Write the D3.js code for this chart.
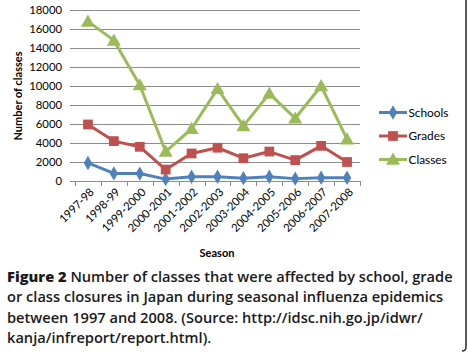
<!DOCTYPE html>
<html lang="en">
<head>
    <meta charset="UTF-8">
    <title>Class closures in Japan</title>
    <script type="text/javascript" src="https://d3js.org/d3.v7.min.js"></script>
    <style>
        body { margin: 0; background: #fff; }
        svg { display: block; }
    </style>
</head>
<body>
    <svg width="468" height="352"></svg>
    <script>
        // data
        var seasons = ["1997-98", "1998-99", "1999-2000", "2000-2001", "2001-2002", "2002-2003",
                       "2003-2004", "2004-2005", "2005-2006", "2006-2007", "2007-2008"];
        var schools = [1900, 800, 780, 200, 450, 450, 300, 450, 250, 350, 350];
        var grades  = [5950, 4200, 3600, 1200, 2900, 3500, 2400, 3100, 2200, 3700, 2000];
        var classes = [16800, 14800, 10100, 3100, 5500, 9700, 5800, 9200, 6600, 10000, 4400];
        var yTicks = [0, 2000, 4000, 6000, 8000, 10000, 12000, 14000, 16000, 18000];

        // dy: the triangle is drawn around its centroid, nudge it so its box is centred
        var series = [
            {name: "Schools", values: schools, color: "#4f81bd", marker: d3.symbolDiamond, size: 60, dy: 0},
            {name: "Grades",  values: grades,  color: "#c0504d", marker: d3.symbolSquare,  size: 95, dy: 0},
            {name: "Classes", values: classes, color: "#9bbb59", marker: d3.symbolTriangle, size: 85, dy: 1.2}
        ];

        var svg = d3.select("svg");
        var font = "Lato, 'Open Sans', sans-serif";

        var x = d3.scaleBand().domain(seasons).range([75, 360]).padding(0);
        var y = d3.scaleLinear().domain([0, 18000]).range([181, 10]);
        var cx = function (i) { return x(seasons[i]) + x.bandwidth() / 2; };

        // gridlines + y labels
        var yAxis = svg.append("g");
        yAxis.selectAll("line")
            .data(yTicks)
            .enter()
            .append("line")
            .attr("x1", 70).attr("x2", 360)
            .attr("y1", d => Math.round(y(d)) + 0.5)
            .attr("y2", d => Math.round(y(d)) + 0.5)
            .attr("stroke", "#8c8c8c")
            .attr("stroke-width", 1);
        yAxis.selectAll("text")
            .data(yTicks)
            .enter()
            .append("text")
            .attr("x", 62)
            .attr("y", d => y(d))
            .attr("dy", "0.36em")
            .attr("text-anchor", "end")
            .style("font-family", font)
            .style("font-size", "11.3px")
            .attr("fill", "#000")
            .text(d => d);

        // x axis ticks at category boundaries
        var bounds = seasons.map(s => x(s)).concat([360]);
        svg.append("g").selectAll("line")
            .data(bounds)
            .enter()
            .append("line")
            .attr("x1", d => Math.round(d) + 0.5).attr("x2", d => Math.round(d) + 0.5)
            .attr("y1", 181).attr("y2", 186)
            .attr("stroke", "#8c8c8c");

        svg.append("g").selectAll("text")
            .data(seasons)
            .enter()
            .append("text")
            .attr("transform", (d, i) => "translate(" + (cx(i) + 4) + ",190) rotate(-45)")
            .attr("text-anchor", "end")
            .attr("dy", "0.35em")
            .style("font-family", font)
            .style("font-size", "11.3px")
            .text(d => d);

        // lines and markers
        var line = d3.line()
            .x((d, i) => cx(i))
            .y(d => y(d));

        series.forEach(function (s) {
            var g = svg.append("g");
            g.append("path")
                .attr("d", line(s.values))
                .attr("fill", "none")
                .attr("stroke", s.color)
                .attr("stroke-width", 3)
                .attr("stroke-linejoin", "round");
            g.selectAll("path.m")
                .data(s.values)
                .enter()
                .append("path")
                .attr("class", "m")
                .attr("d", d3.symbol().type(s.marker).size(s.size))
                .attr("transform", (d, i) => "translate(" + cx(i) + "," + (y(d) + s.dy) + ")")
                .attr("fill", s.color);
        });

        // legend
        var legend = svg.append("g");
        series.forEach(function (s, i) {
            var ly = 112.5 + i * 23.5;
            legend.append("line")
                .attr("x1", 379).attr("x2", 407)
                .attr("y1", ly).attr("y2", ly)
                .attr("stroke", s.color)
                .attr("stroke-width", 3);
            legend.append("path")
                .attr("d", d3.symbol().type(s.marker).size(s.size))
                .attr("transform", "translate(393," + (ly + s.dy) + ")")
                .attr("fill", s.color);
            legend.append("text")
                .attr("x", 408.5)
                .attr("y", ly)
                .attr("dy", "0.36em")
                .style("font-family", font)
                .style("font-size", "11.8px")
                .text(s.name);
        });

        // axis titles
        svg.append("text")
            .attr("transform", "translate(22,96) rotate(-90)")
            .attr("text-anchor", "middle")
            .style("font-family", font)
            .style("font-size", "11px")
            .style("font-weight", "bold")
            .text("Number of classes");

        svg.append("text")
            .attr("x", 217)
            .attr("y", 257)
            .attr("text-anchor", "middle")
            .style("font-family", font)
            .style("font-size", "11px")
            .style("font-weight", "bold")
            .text("Season");

        // caption
        var capFont = "'Open Sans', 'Noto Sans', sans-serif";
        var capLines = [
            ["Figure 2", " Number of classes that were affected by school, grade"],
            ["", "or class closures in Japan during seasonal influenza epidemics"],
            ["", "between 1997 and 2008. (Source: http://idsc.nih.go.jp/idwr/"],
            ["", "kanja/infreport/report.html)."]
        ];
        var caption = svg.append("g");
        var capTexts = capLines.map(function (l, i) {
            var t = caption.append("text")
                .attr("x", 7)
                .attr("y", 282 + i * 20.3)
                .style("font-family", capFont)
                .style("font-size", "15px")
                .attr("fill", "#1a1a1a");
            if (l[0]) t.append("tspan").style("font-weight", "800").text(l[0]);
            t.append("tspan").style("font-weight", "600").text(l[1]);
            return t;
        });
        // fit first line to the width seen in the figure
        var w = capTexts[0].node().getComputedTextLength();
        var fs = 15 * 446 / w;
        capTexts.forEach(t => t.style("font-size", fs + "px"));

        // right border of the page
        svg.append("path")
            .attr("d", "M466,0 L466,347 Q466,351 462,351")
            .attr("fill", "none")
            .attr("stroke", "#333")
            .attr("stroke-width", 1.6);
    </script>
</body>
</html>
